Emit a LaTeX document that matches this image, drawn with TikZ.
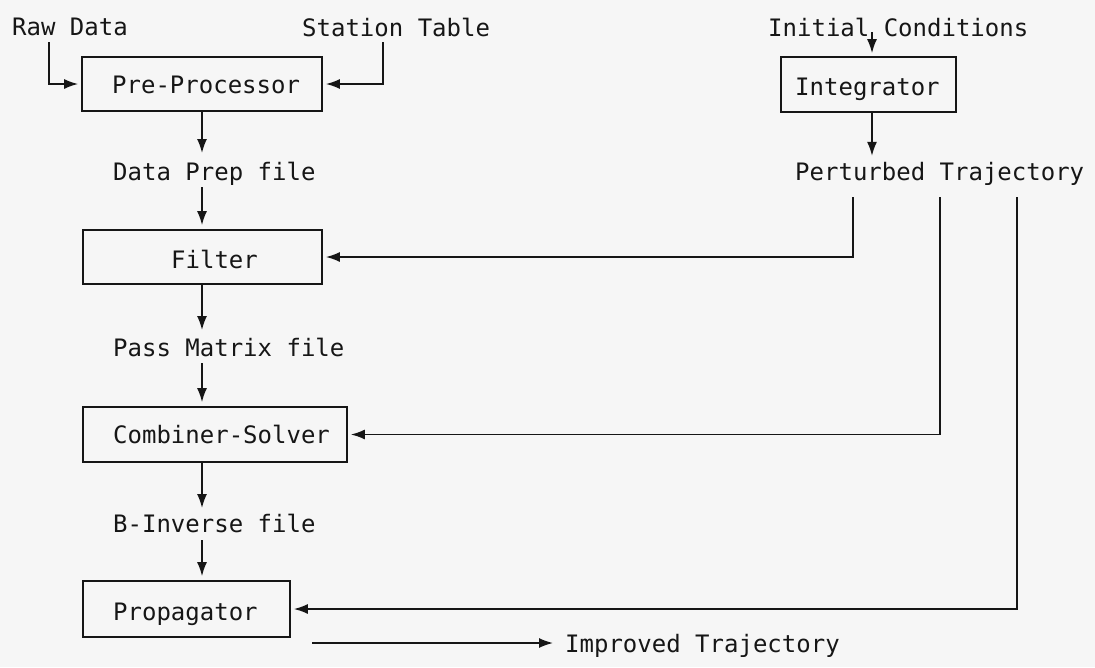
\documentclass[tikz,border=0pt]{standalone}
\usepackage{fontspec}
\setmonofont{DejaVu Sans Mono}
\usetikzlibrary{arrows.meta}
\definecolor{paper}{HTML}{F6F6F6}
\definecolor{ink}{HTML}{161616}
\tikzset{
  txt/.style={inner sep=0pt, anchor=base west, text=ink, font=\ttfamily\fontsize{24}{28}\selectfont},
  procbox/.style={draw=ink, line width=1.7pt, inner sep=0pt},
  conn/.style={draw=ink, line width=1.6pt},
  arr/.style={conn, -{Latex[length=14pt,width=10pt]}},
}
\begin{document}
\begin{tikzpicture}[x=1pt,y=-1pt]
\fill[paper] (0,0) rectangle (1095,667);
\useasboundingbox (0,0) rectangle (1095,667);

% boxes
\node[procbox, minimum width=240pt, minimum height=54pt] (pre) at (202,84) {};
\node[procbox, minimum width=175pt, minimum height=55pt] (integ) at (868.5,84.5) {};
\node[procbox, minimum width=239pt, minimum height=54pt] (filter) at (202.5,257) {};
\node[procbox, minimum width=264pt, minimum height=55pt] (comb) at (215,434.5) {};
\node[procbox, minimum width=207pt, minimum height=56pt] (prop) at (186.5,609) {};

% box texts
\node[txt] (preT) at (112,93) {Pre-Processor};
\node[txt] (integT) at (795,95) {Integrator};
\node[txt] (filterT) at (171,268) {Filter};
\node[txt] (combT) at (113,443) {Combiner-Solver};
\node[txt] (propT) at (113,620) {Propagator};

% labels
\node[txt] (raw) at (12,35) {Raw Data};
\node[txt] (station) at (302,36) {Station Table};
\node[txt] (init) at (768,36) {Initial Conditions};
\node[txt] (pert) at (795,180) {Perturbed Trajectory};
\node[txt] (dprep) at (113,180) {Data Prep file};
\node[txt] (pass) at (113,356) {Pass Matrix file};
\node[txt] (binv) at (113,532) {B-Inverse file};
\node[txt] (impr) at (565,652) {Improved Trajectory};

% free ends
\coordinate (rawtail) at (49,42);
\coordinate (sttail) at (383,42);
\coordinate (ictail) at (872,32);
\coordinate (pt1) at (853,197);
\coordinate (pt2) at (940,197);
\coordinate (pt3) at (1017,197);
\coordinate (imptail) at (312,643);
\coordinate (imphead) at (553,643);
\coordinate (colx) at (202,0);

% connectors
\draw[arr, shorten >=3pt] (rawtail) |- (pre.west);
\draw[arr, shorten >=3pt] (sttail) |- (pre.east);
\draw[arr, shorten >=3pt] (ictail) -- (ictail |- integ.north);
\draw[arr] (ictail |- integ.south) -- ++(0,43);

\draw[arr] (colx |- pre.south) -- (202,153);
\draw[arr, shorten >=4pt] (202,187) -- (colx |- filter.north);
\draw[arr] (colx |- filter.south) -- (202,330);
\draw[arr, shorten >=4pt] (202,363) -- (colx |- comb.north);
\draw[arr] (colx |- comb.south) -- (202,508);
\draw[arr, shorten >=4pt] (202,540) -- (colx |- prop.north);

\draw[arr, shorten >=3pt] (pt1) |- (filter.east);
\draw[arr, shorten >=3pt] (pt2) |- (comb.east);
\draw[arr, shorten >=3pt] (pt3) |- (prop.east);

\draw[arr] (imptail) -- (imphead);
\end{tikzpicture}
\end{document}
